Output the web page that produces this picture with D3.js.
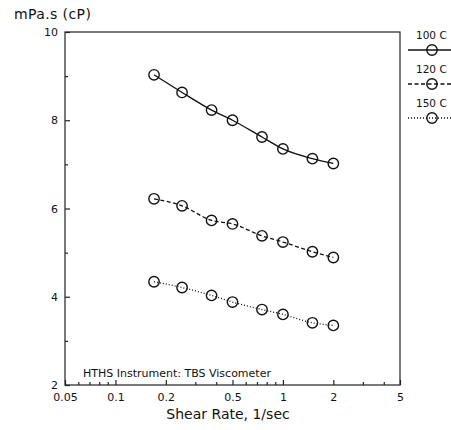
<!DOCTYPE html>
<html>
<head>
<meta charset="utf-8">
<script src="https://cdn.jsdelivr.net/npm/d3@7"></script>
<style>
  html, body { margin: 0; padding: 0; background: #fff; }
  svg { display: block; }
  text { font-family: "DejaVu Sans", sans-serif; fill: #111; }
</style>
</head>
<body>
<svg id="chart" width="451" height="430"></svg>
<script>
// ---- data ----
const shearRates = [0.17, 0.25, 0.375, 0.5, 0.75, 1, 1.5, 2];
const visc100 = [9.03, 8.63, 8.23, 8.00, 7.62, 7.35, 7.13, 7.02];
const visc120 = [6.22, 6.06, 5.73, 5.65, 5.38, 5.24, 5.02, 4.89];
const visc150 = [4.34, 4.21, 4.03, 3.88, 3.71, 3.60, 3.41, 3.35];
const seriesNames = ["100 C", "120 C", "150 C"];
const xTickValues = [0.05, 0.1, 0.2, 0.5, 1, 2, 5];
const xTickLabels = ["0.05", "0.1", "0.2", "0.5", "1", "2", "5"];
const yTickValues = [2, 4, 6, 8, 10];
const yMinorValues = [3, 5, 7, 9];
const yUnitLabel = "mPa.s (cP)";
const xAxisTitle = "Shear Rate, 1/sec";
const noteText = "HTHS Instrument: TBS Viscometer";

// ---- layout ----
const svg = d3.select("#chart");
const m = { left: 65, right: 400, top: 32, bottom: 385 };
const x = d3.scaleLog().domain([0.05, 5]).range([m.left, m.right]);
const y = d3.scaleLinear().domain([2, 10]).range([m.bottom, m.top]);
const dashes = [null, "4,2.5", "1,2"];
const seriesVals = [visc100, visc120, visc150];

// frame
svg.append("rect")
  .attr("x", m.left).attr("y", m.top)
  .attr("width", m.right - m.left).attr("height", m.bottom - m.top)
  .attr("fill", "none").attr("stroke", "#222").attr("stroke-width", 1.2);

// x minor ticks
const xMinor = [];
[0.01, 0.1, 1].forEach(d => { for (let k = 1; k <= 9; k++) { const v = +(d * k).toFixed(4); if (v > 0.05 && v < 5 && !xTickValues.includes(v)) xMinor.push(v); } });

const xAxis = d3.axisBottom(x).tickValues(xTickValues)
  .tickFormat((d, i) => xTickLabels[i]).tickSizeInner(-5).tickSizeOuter(0).tickPadding(8);
const gx = svg.append("g").attr("transform", `translate(0,${m.bottom})`).call(xAxis);
gx.select(".domain").remove();
gx.selectAll(".tick line").attr("stroke", "#222").attr("stroke-width", 1.2);
gx.selectAll(".tick text").attr("font-size", 11).attr("font-family", "DejaVu Sans").attr("fill", "#111");

const xAxisMinor = d3.axisBottom(x).tickValues(xMinor).tickFormat("").tickSizeInner(-3).tickSizeOuter(0);
const gxm = svg.append("g").attr("transform", `translate(0,${m.bottom})`).call(xAxisMinor);
gxm.select(".domain").remove();
gxm.selectAll(".tick line").attr("stroke", "#222").attr("stroke-width", 1.2);

const yAxis = d3.axisLeft(y).tickValues(yTickValues).tickFormat(d3.format("d"))
  .tickSizeInner(-5).tickSizeOuter(0).tickPadding(7);
const gy = svg.append("g").attr("transform", `translate(${m.left},0)`).call(yAxis);
gy.select(".domain").remove();
gy.selectAll(".tick line").attr("stroke", "#222").attr("stroke-width", 1.2);
gy.selectAll(".tick text").attr("font-size", 11).attr("font-family", "DejaVu Sans").attr("fill", "#111");

const yAxisMinor = d3.axisLeft(y).tickValues(yMinorValues).tickFormat("").tickSizeInner(-3).tickSizeOuter(0);
const gym = svg.append("g").attr("transform", `translate(${m.left},0)`).call(yAxisMinor);
gym.select(".domain").remove();
gym.selectAll(".tick line").attr("stroke", "#222").attr("stroke-width", 1.2);

// titles
svg.append("text").attr("x", 14).attr("y", 19).attr("font-size", 14)
  .attr("letter-spacing", 0.4).text(yUnitLabel);
svg.append("text").attr("x", 228).attr("y", 419)
  .attr("text-anchor", "middle").attr("font-size", 14).text(xAxisTitle);
svg.append("text").attr("x", 83).attr("y", 377).attr("font-size", 11).text(noteText);

// series
const line = d3.line().x(d => x(d[0])).y(d => y(d[1])).curve(d3.curveMonotoneX);
seriesVals.forEach((vals, si) => {
  const pts = shearRates.map((s, i) => [s, vals[i]]);
  const g = svg.append("g");
  g.append("path").datum(pts).attr("d", line)
    .attr("fill", "none").attr("stroke", "#111").attr("stroke-width", 1.3)
    .attr("stroke-dasharray", dashes[si]);
  g.selectAll("circle").data(pts).join("circle")
    .attr("cx", d => x(d[0])).attr("cy", d => y(d[1])).attr("r", 5.2)
    .attr("fill", "none").attr("stroke", "#111").attr("stroke-width", 1.4);
});

// legend
const legY = [50, 84, 118];
seriesNames.forEach((name, i) => {
  const ly = legY[i];
  svg.append("text").attr("x", 416).attr("y", ly - 11).attr("font-size", 10.5).text(name);
  svg.append("line").attr("x1", 408).attr("x2", 451).attr("y1", ly).attr("y2", ly)
    .attr("stroke", "#111").attr("stroke-width", 1.3).attr("stroke-dasharray", dashes[i]);
  svg.append("circle").attr("cx", 432).attr("cy", ly).attr("r", 5.2)
    .attr("fill", "none").attr("stroke", "#111").attr("stroke-width", 1.4);
});
</script>
</body>
</html>
